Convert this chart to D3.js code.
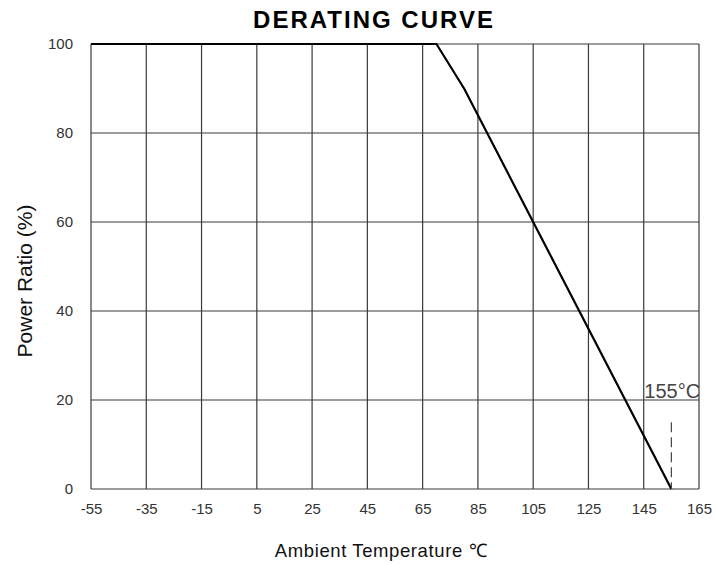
<!DOCTYPE html>
<html><head><meta charset="utf-8">
<script src="https://cdn.jsdelivr.net/npm/d3@7"></script>
<style>
html,body{margin:0;padding:0;background:#fff;}
svg{display:block;font-family:"Liberation Sans",Arial,sans-serif;}
</style></head>
<body><svg id="c" width="716" height="565"></svg>
<script>
const xTicks = [-55,-35,-15,5,25,45,65,85,105,125,145,165];
const yTicks = [0,20,40,60,80,100];
const tempC = [-55,70,80,155];
const powerPct = [100,100,90,0];
const markerTemp = [155];
const markerTop = [15];
const markerLabel = ["155°C"];

const svg = d3.select("#c");
const x = d3.scaleLinear().domain([-55,165]).range([91,699]);
const y = d3.scaleLinear().domain([0,100]).range([489,44]);

// grid
svg.append("g").selectAll("line").data(xTicks).join("line")
  .attr("x1",d=>x(d)).attr("x2",d=>x(d)).attr("y1",y(0)).attr("y2",y(100))
  .attr("stroke","#3a3a3a").attr("stroke-width",1.2);
svg.append("g").selectAll("line").data(yTicks).join("line")
  .attr("x1",x(-55)).attr("x2",x(165)).attr("y1",d=>y(d)).attr("y2",d=>y(d))
  .attr("stroke","#3a3a3a").attr("stroke-width",1.2);

// axes labels via d3 axes
const ax = svg.append("g").attr("transform",`translate(0,${y(0)})`)
  .call(d3.axisBottom(x).tickValues(xTicks).tickFormat(d=>String(d)).tickSize(0).tickPadding(14));
const ay = svg.append("g").attr("transform",`translate(${x(-55)},0)`)
  .call(d3.axisLeft(y).tickValues(yTicks).tickFormat(d=>String(d)).tickSize(0).tickPadding(18));
[ax,ay].forEach(g=>{g.select(".domain").remove();
  g.selectAll("text").attr("font-size",15).attr("fill","#333").attr("font-family","Liberation Sans, Arial, sans-serif");});

// data line
svg.append("path").datum(tempC.map((t,i)=>[t,powerPct[i]]))
  .attr("d",d3.line().x(d=>x(d[0])).y(d=>y(d[1])))
  .attr("fill","none").attr("stroke","#000").attr("stroke-width",2.2);

// marker dashed
svg.append("g").selectAll("line").data(markerTemp).join("line")
  .attr("x1",d=>x(d)).attr("x2",d=>x(d)).attr("y1",(d,i)=>y(markerTop[i])).attr("y2",y(0))
  .attr("stroke","#444").attr("stroke-width",1.2).attr("stroke-dasharray","10,5");
svg.append("g").selectAll("text").data(markerLabel).join("text")
  .attr("x",(d,i)=>x(markerTemp[i])-27).attr("y",y(20)-2)
  .attr("font-size",20).attr("fill","#444").text(d=>d);

// titles
svg.append("text").attr("x",374).attr("y",28).attr("text-anchor","middle")
  .attr("font-size",24).attr("font-weight","bold").attr("letter-spacing",2).attr("fill","#000")
  .text("DERATING CURVE");
svg.append("text").attr("x",381).attr("y",557).attr("text-anchor","middle")
  .attr("font-size",18.5).attr("letter-spacing",0.6).attr("fill","#111").text("Ambient Temperature ℃");
svg.append("text").attr("transform","translate(32,281) rotate(-90)").attr("text-anchor","middle")
  .attr("font-size",21).attr("fill","#111").text("Power Ratio (%)");
</script></body></html>
